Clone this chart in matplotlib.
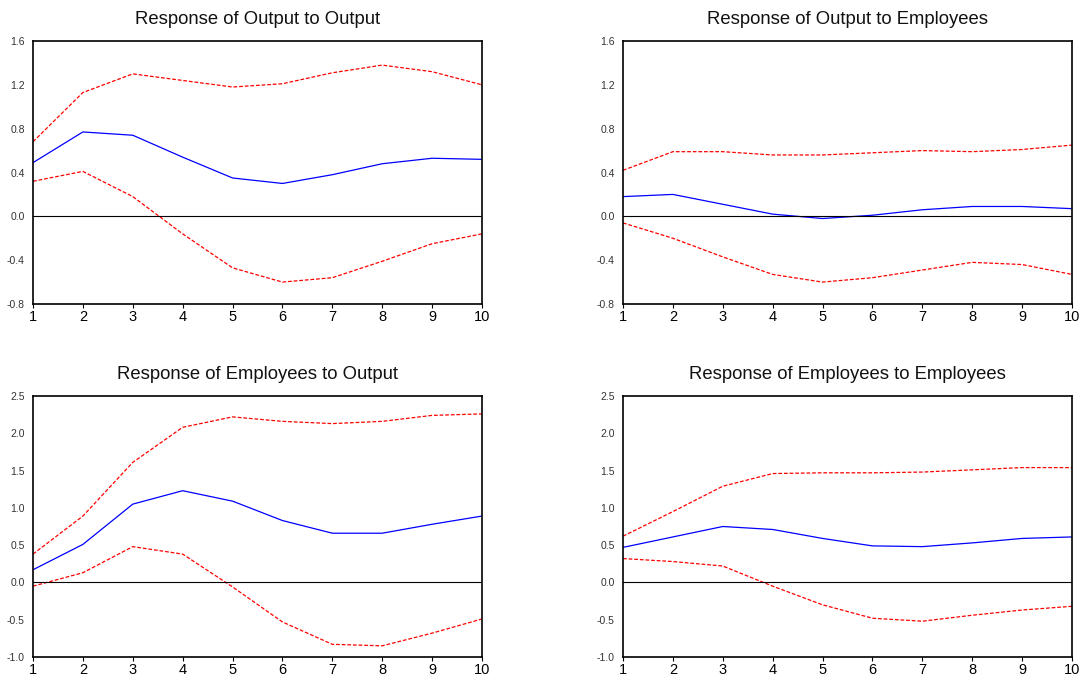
import matplotlib
matplotlib.use("Agg")
import matplotlib.pyplot as plt
import numpy as np

plt.rcParams['font.family'] = ['Liberation Sans', 'DejaVu Sans']

periods = list(range(1, 11))

titles = ["Response of Output to Output", "Response of Output to Employees",
          "Response of Employees to Output", "Response of Employees to Employees"]

oo_mid = [0.49, 0.77, 0.74, 0.54, 0.35, 0.30, 0.38, 0.48, 0.53, 0.52]
oo_up = [0.68, 1.13, 1.30, 1.24, 1.18, 1.21, 1.31, 1.38, 1.32, 1.20]
oo_lo = [0.32, 0.41, 0.18, -0.16, -0.47, -0.60, -0.56, -0.41, -0.25, -0.16]

oe_mid = [0.18, 0.20, 0.11, 0.02, -0.02, 0.01, 0.06, 0.09, 0.09, 0.07]
oe_up = [0.42, 0.59, 0.59, 0.56, 0.56, 0.58, 0.60, 0.59, 0.61, 0.65]
oe_lo = [-0.06, -0.20, -0.37, -0.53, -0.60, -0.56, -0.49, -0.42, -0.44, -0.53]

eo_mid = [0.17, 0.51, 1.05, 1.23, 1.09, 0.83, 0.66, 0.66, 0.78, 0.89]
eo_up = [0.38, 0.89, 1.61, 2.08, 2.22, 2.16, 2.13, 2.16, 2.24, 2.26]
eo_lo = [-0.05, 0.13, 0.48, 0.38, -0.06, -0.53, -0.83, -0.85, -0.68, -0.49]

ee_mid = [0.47, 0.61, 0.75, 0.71, 0.59, 0.49, 0.48, 0.53, 0.59, 0.61]
ee_up = [0.62, 0.95, 1.29, 1.46, 1.47, 1.47, 1.48, 1.51, 1.54, 1.54]
ee_lo = [0.32, 0.28, 0.22, -0.05, -0.30, -0.48, -0.52, -0.44, -0.37, -0.32]

yticks_top = [-0.8, -0.4, 0.0, 0.4, 0.8, 1.2, 1.6]
yticks_bot = [-1.0, -0.5, 0.0, 0.5, 1.0, 1.5, 2.0, 2.5]

panels = [
    (oo_mid, oo_up, oo_lo, yticks_top),
    (oe_mid, oe_up, oe_lo, yticks_top),
    (eo_mid, eo_up, eo_lo, yticks_bot),
    (ee_mid, ee_up, ee_lo, yticks_bot),
]

W, H = 1090, 681
fig = plt.figure(figsize=(W / 100, H / 100), dpi=100)
fig.patch.set_facecolor('white')

lefts = [33, 623]
tops = [(41, 304), (396, 657)]
axw = 449

for i, (mid, up, lo, yt) in enumerate(panels):
    r, c = divmod(i, 2)
    l = lefts[c]
    t, b = tops[r]
    ax = fig.add_axes([l / W, 1 - b / H, axw / W, (b - t) / H])
    ax.plot(periods, up, color='#ff0000', lw=0.9, ls=(0, (3, 1.5)))
    ax.plot(periods, lo, color='#ff0000', lw=0.9, ls=(0, (3, 1.5)))
    ax.plot(periods, mid, color='#0000ff', lw=0.9)
    ax.axhline(0, color='black', lw=0.8)
    ax.set_xlim(1, 10)
    ax.set_ylim(yt[0], yt[-1])
    ax.set_xticks(periods)
    ax.set_yticks(yt)
    ax.set_yticklabels([f"{v:.1f}" for v in yt])
    ax.tick_params(axis='x', direction='out', length=3, width=0.8, labelsize=10.5, pad=1)
    ax.tick_params(axis='y', length=0, labelsize=7.5, pad=6, labelcolor='#333333')
    for s in ax.spines.values():
        s.set_linewidth(1.2)
    ax.set_title(titles[i], fontsize=13.3, pad=12, color='#111111')

fig.savefig("out.png", dpi=100)
